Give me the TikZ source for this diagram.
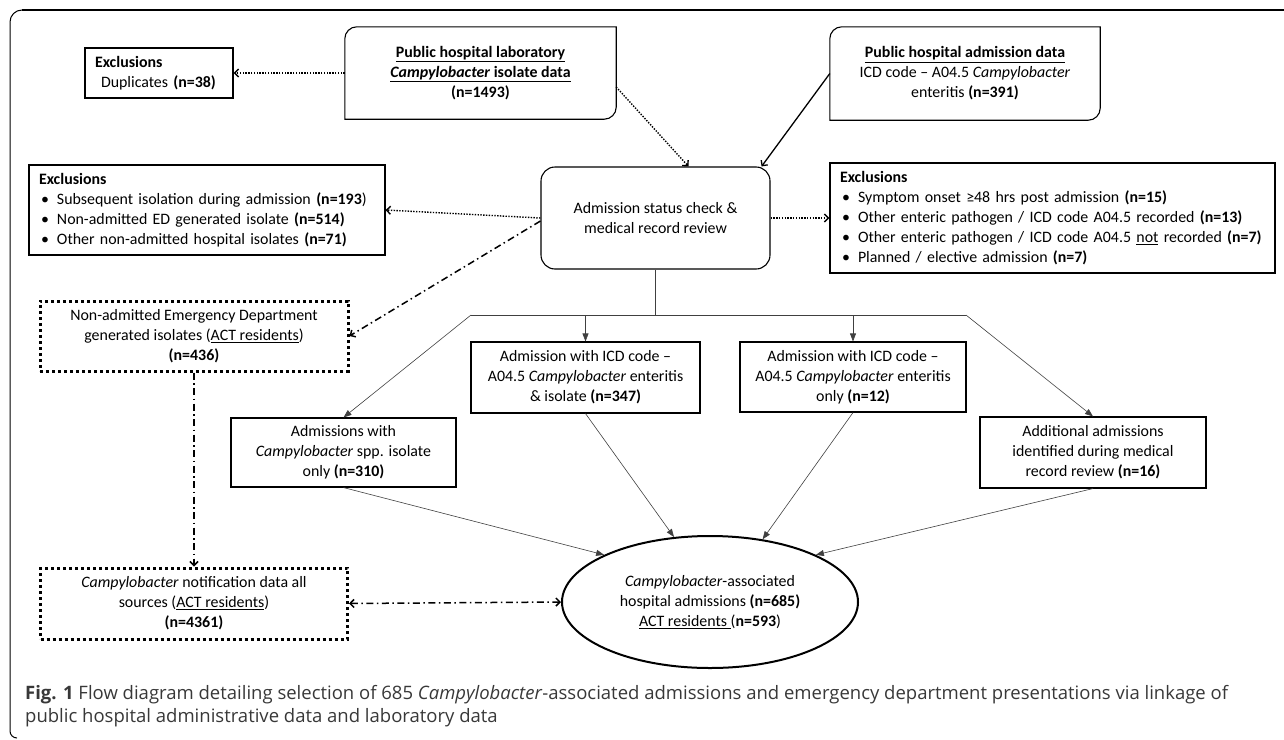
\documentclass[tikz,border=0pt]{standalone}
\usepackage{fontspec}
\setmainfont{Carlito}
\newfontfamily\capfont{Open Sans}
\usetikzlibrary{arrows.meta,shapes.geometric}

\newcommand{\cornerbox}[1]{%
  \draw[line width=1.1pt] (#1.south west) -- ([yshift=-12pt]#1.north west)
    arc[start angle=180,end angle=90,radius=12pt] -- (#1.north east)
    -- ([yshift=12pt]#1.south east) arc[start angle=0,end angle=-90,radius=12pt] -- cycle;}
\newcommand{\bul}{\hspace*{2pt}\makebox[16pt][l]{\textbullet}}

\begin{document}
\begin{tikzpicture}[x=1pt,y=-1pt,>={Straight Barb[length=4pt,width=8pt]},
  every node/.style={font=\fontsize{15.9}{20}\selectfont, inner sep=0pt},
  plain/.style={align=center},
  box/.style={draw, line width=1.1pt, align=center},
  listbox/.style={draw, line width=1.1pt, align=left, inner xsep=10pt},
  dotbox/.style={draw, line width=3pt, dash pattern=on 3pt off 3pt, align=center},
  dotarrow/.style={->, dash pattern=on 1.4pt off 1.4pt, line width=1.4pt},
  dasharrow/.style={line width=1.5pt, dash pattern=on 7pt off 3.5pt on 1.5pt off 3.5pt},
  thinline/.style={line width=0.6pt, draw=black!75},
  thinarrow/.style={thinline, -{Triangle[length=8pt,width=6pt]}},
  caption/.style={anchor=base west, font=\capfont\fontsize{18.5}{22}\selectfont, text=black!78}
]
\useasboundingbox (0,0) rectangle (1284,739);
\draw[line width=2.2pt] (1284,10) -- (22,10);
\draw[line width=1pt] (22,10) arc[start angle=90,end angle=180,radius=12pt] -- (10,731)
  arc[start angle=180,end angle=270,radius=7pt];

\node[listbox, text width=128pt, minimum height=50pt] (dup) at (159,73)
  {\textbf{Exclusions}\\\hspace*{6pt}Duplicates \textbf{(n=38)}};
\node[plain, minimum width=271pt, minimum height=92pt] (lab) at (480.5,73)
  {\underline{\textbf{Public hospital laboratory}}\\\underline{\textbf{\textit{Campylobacter} isolate data}}\\\textbf{(n=1493)}};
\cornerbox{lab}
\node[plain, minimum width=270pt, minimum height=93pt] (adm) at (965,73.5)
  {\underline{\textbf{Public hospital admission data}}\\ICD code -- A04.5 \textit{Campylobacter}\\enteritis \textbf{(n=391)}};
\cornerbox{adm}
\node[listbox, text width=336pt, minimum height=90pt] (excl1) at (207,210)
  {\textbf{Exclusions}\\
   \bul Subsequent isolation during admission \textbf{(n=193})\\
   \bul Non-admitted ED generated isolate \textbf{(n=514)}\\
   \bul Other non-admitted hospital isolates \textbf{(n=71)}};
\node[box, rounded corners=14pt, minimum width=229pt, minimum height=102pt] (review) at (655.5,218)
  {Admission status check \&\\medical record review};
\node[listbox, text width=425pt, minimum height=110pt] (excl2) at (1052.5,218)
  {\textbf{Exclusions}\\
   \bul Symptom onset ≥48 hrs post admission \textbf{(n=15)}\\
   \bul Other enteric pathogen / ICD code A04.5 recorded \textbf{(n=13)}\\
   \bul Other enteric pathogen / ICD code A04.5 \underline{not} recorded \textbf{(n=7)}\\
   \bul Planned / elective admission \textbf{(n=7)}};
\node[dotbox, minimum width=308pt, minimum height=70pt] (ed) at (194,336)
  {Non-admitted Emergency Department\\generated isolates (\underline{ACT residents})\\\textbf{(n=436)}};
\node[dotbox, minimum width=307pt, minimum height=71pt] (note) at (194,603.5)
  {\textit{Campylobacter} notification data all\\sources (\underline{ACT residents})\\\textbf{(n=4361)}};
\node[box, minimum width=225pt, minimum height=69pt] (spp) at (343.5,452.5)
  {Admissions with\\\textit{Campylobacter} spp. isolate\\only \textbf{(n=310)}};
\node[box, minimum width=229pt, minimum height=71pt] (isol) at (585.5,377.5)
  {Admission with ICD code --\\A04.5 \textit{Campylobacter} enteritis\\\& isolate \textbf{(n=347)}};
\node[box, minimum width=226pt, minimum height=70pt] (only) at (853,377)
  {Admission with ICD code --\\A04.5 \textit{Campylobacter} enteritis\\only \textbf{(n=12)}};
\node[box, minimum width=226pt, minimum height=71pt] (addl) at (1093,452.5)
  {Additional admissions\\identified during medical\\record review \textbf{(n=16)}};
\node[draw, ellipse, line width=2pt, align=center, minimum width=296pt, minimum height=132pt] (assoc) at (710,602)
  {\textit{Campylobacter}-associated\\hospital admissions \textbf{(n=685)}\\\underline{ACT residents }(\textbf{n=593})};

\coordinate (split) at (655.5,315);
\coordinate (bl) at (471,315);
\coordinate (br) at (966,315);

\draw[dotarrow] (lab.west) -- (dup.east);
\draw[dotarrow] ([yshift=-14pt]lab.east) -- ([xshift=33pt]review.north);
\draw[->, line width=1.3pt] (adm.west) -- ([xshift=-9pt]review.north east);
\draw[dotarrow] (review.west) -- (excl1.east);
\draw[dotarrow] (review.east) -- (excl2.west);
\draw[dasharrow, ->] ([yshift=-3pt]review.west) -- (ed.east);
\draw[dasharrow, ->] (ed.south) -- (note.north);
\draw[dasharrow, <->] (note.east) -- (assoc.west);

\draw[thinline] (review.south) -- (split);
\draw[thinline] (bl) -- (br);
\draw[thinarrow] (bl) -- (spp.north);
\draw[thinarrow] (br) -- (addl.north);
\draw[thinarrow] (isol.north |- split) -- (isol.north);
\draw[thinarrow] (only.north |- split) -- (only.north);
\draw[thinarrow] (spp.south) -- (assoc.156);
\draw[thinarrow] (isol.south) -- (assoc.119);
\draw[thinarrow] (only.south) -- (assoc.50);
\draw[thinarrow] (addl.south) -- (assoc.24);

\node[caption] (cap1) at (25,699)
  {\textbf{Fig. 1} Flow diagram detailing selection of 685 \textit{Campylobacter}-associated admissions and emergency department presentations via linkage of};
\node[caption] (cap2) at (25,722)
  {public hospital administrative data and laboratory data};
\end{tikzpicture}
\end{document}
